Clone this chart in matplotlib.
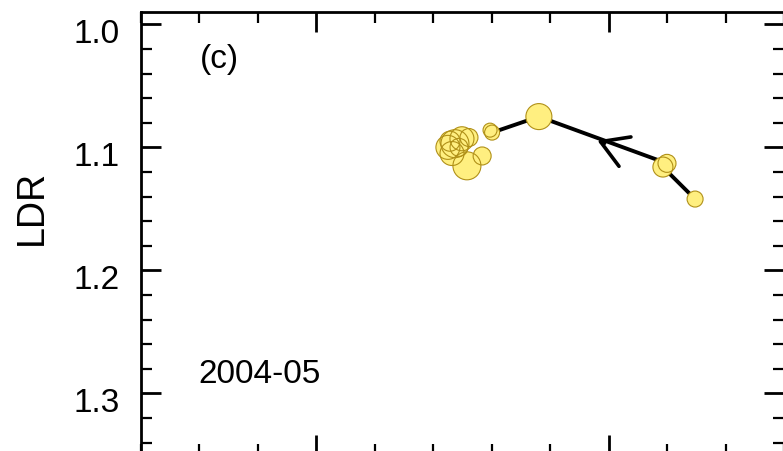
import matplotlib.pyplot as plt
from matplotlib.patches import FancyArrowPatch
from matplotlib.ticker import MultipleLocator
import matplotlib.transforms as mtransforms

plt.rcParams['font.family'] = ['Liberation Sans', 'DejaVu Sans']

# trajectory from 2004-05 onwards (first point is the start)
xval = [2.296, 2.186, 2.200, 1.762, 1.602, 1.595, 1.568, 1.523,
        1.499, 1.475, 1.489, 1.458, 1.451, 1.465, 1.516]
ldr = [1.142, 1.116, 1.113, 1.075, 1.088, 1.086, 1.107, 1.092,
       1.093, 1.097, 1.100, 1.095, 1.100, 1.105, 1.115]
# bubble magnitude
weight = [8, 10, 9, 13, 7.5, 7, 9, 9, 12, 14, 9, 10, 12, 12, 14]

panel = '(c)'
period = '2004-05'

fig = plt.figure(figsize=(7.83, 4.51), dpi=100)
ax = fig.add_axes([140.5 / 783, -4 / 451, 643.5 / 783, 443 / 451])

sizes = [(2 * w / 1.389) ** 2 for w in weight]
ax.plot(xval[:6], ldr[:6], color='black', lw=2.8, zorder=2, solid_capstyle='round')
# opaque fills first, then every outline on top so overlaps stay visible
ax.scatter(xval, ldr, s=sizes, facecolor='#FFEF80', edgecolor='none', zorder=3)
ax.scatter(xval, ldr, s=sizes, facecolor='none', edgecolor='#B09018',
           linewidths=0.8, zorder=4)

# direction arrow along the segment between the 2nd and 4th points
frac = 0.45
tip = (xval[3] + frac * (xval[1] - xval[3]), ldr[3] + frac * (ldr[1] - ldr[3]))
tail = (xval[3] + (frac + 0.1) * (xval[1] - xval[3]),
        ldr[3] + (frac + 0.1) * (ldr[1] - ldr[3]))
ax.add_patch(FancyArrowPatch(tail, tip, arrowstyle='->, head_length=1, head_width=0.6',
                             mutation_scale=19, color='black', lw=2.6, zorder=2))

ax.set_xlim(0.4, 2.6)
ax.set_ylim(1.35, 0.99)
ax.xaxis.set_major_locator(MultipleLocator(1.0))
ax.xaxis.set_minor_locator(MultipleLocator(0.2))
ax.yaxis.set_major_locator(MultipleLocator(0.1))
ax.yaxis.set_minor_locator(MultipleLocator(0.02))
ax.yaxis.set_major_formatter(lambda v, p: f'{v:.1f}')

ax.tick_params(which='both', direction='in', top=True, right=True,
               labelbottom=False, labelsize=24, pad=15)
ax.tick_params(which='major', length=14.5, width=2)
ax.tick_params(which='minor', length=8, width=1.6)
for sp in ax.spines.values():
    sp.set_linewidth(2)

# labels sit a little below their ticks
shift = mtransforms.ScaledTranslation(0, -7 / 100, fig.dpi_scale_trans)
for lab in ax.get_yticklabels():
    lab.set_transform(lab.get_transform() + shift)

ax.set_ylabel('LDR', fontsize=27)
ax.yaxis.set_label_coords(-0.1406, 0.558)

ax.text(0.092, 0.892, panel, transform=ax.transAxes, fontsize=24, va='center')
ax.text(0.09, 0.181, period, transform=ax.transAxes, fontsize=24, va='center')

fig.savefig('out.png', dpi=100)
